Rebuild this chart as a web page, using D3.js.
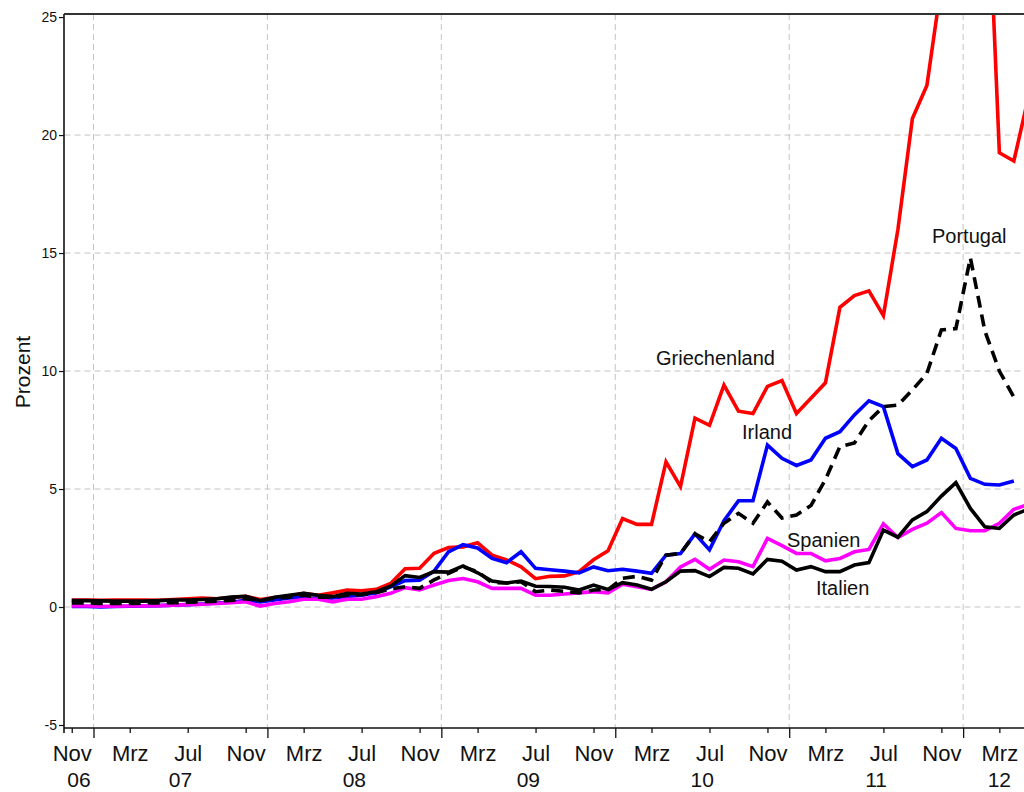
<!DOCTYPE html>
<html>
<head>
<meta charset="utf-8">
<script src="https://cdn.jsdelivr.net/npm/d3@7"></script>
<style>
  html, body { margin: 0; padding: 0; background: #fff; }
  svg { display: block; font-family: "Liberation Sans", Arial, sans-serif; }
  .grid line { stroke: #c4c4c4; stroke-width: 1; stroke-dasharray: 6,4; }
</style>
</head>
<body>
<div id="chart"></div>
<script>
// Monthly spreads, Nov 2006 .. May 2012 (index 0 = Nov 06)
const startYear = 2006, startMonth = 10; // November (0-based)

const greece = [0.30,0.30,0.28,0.30,0.30,0.30,0.28,0.32,0.35,0.38,0.35,0.40,0.45,0.32,0.40,0.46,0.58,0.50,0.60,0.72,
  0.69,0.75,1.00,1.62,1.64,2.28,2.52,2.55,2.72,2.20,2.00,1.70,1.20,1.30,1.32,1.50,2.00,2.38,3.75,3.50,
  3.50,6.15,5.10,8.00,7.70,9.40,8.30,8.20,9.35,9.60,8.20,8.85,9.50,12.7,13.2,13.4,12.35,16.0,20.7,22.1,
  26.4,30.5,32.5,33.9,19.25,18.9,21.6];

const ireland = [0.02,0.02,0.00,0.02,0.03,0.05,0.06,0.08,0.10,0.13,0.17,0.20,0.28,0.22,0.30,0.38,0.40,0.35,0.38,0.45,
  0.50,0.60,0.85,1.12,1.14,1.52,2.34,2.64,2.50,2.06,1.88,2.34,1.64,1.58,1.52,1.45,1.70,1.54,1.60,1.52,
  1.43,2.20,2.27,3.10,2.42,3.66,4.50,4.50,6.86,6.30,6.00,6.23,7.15,7.43,8.14,8.74,8.49,6.50,5.95,6.23,
  7.15,6.72,5.45,5.20,5.17,5.34,null];

const portugal = [0.17,0.17,0.15,0.15,0.15,0.17,0.17,0.18,0.20,0.22,0.25,0.28,0.35,0.28,0.37,0.42,0.50,0.42,0.42,0.50,
  0.52,0.60,0.77,0.86,0.79,1.15,1.43,1.70,1.50,1.03,1.02,1.07,0.65,0.72,0.66,0.60,0.72,0.74,1.22,1.30,
  1.14,2.20,2.27,3.10,2.77,3.55,3.97,3.55,4.45,3.77,3.90,4.30,5.40,6.80,6.95,7.90,8.49,8.56,9.20,9.90,
  11.74,11.8,14.8,11.7,10.0,8.90,null];

const spain = [0.04,0.04,0.03,0.03,0.04,0.05,0.06,0.08,0.10,0.12,0.15,0.18,0.22,0.04,0.15,0.22,0.33,0.33,0.22,0.33,
  0.33,0.44,0.58,0.82,0.72,0.93,1.12,1.21,1.07,0.79,0.79,0.79,0.50,0.50,0.55,0.60,0.65,0.60,0.97,0.86,
  0.75,1.07,1.70,2.02,1.60,1.99,1.92,1.71,2.91,2.60,2.27,2.27,1.96,2.06,2.34,2.44,3.52,2.94,3.29,3.55,
  4.00,3.33,3.23,3.23,3.55,4.14,4.35];

const italy = [0.27,0.27,0.26,0.25,0.25,0.25,0.27,0.30,0.30,0.32,0.35,0.42,0.45,0.27,0.41,0.50,0.58,0.50,0.44,0.58,
  0.55,0.65,0.88,1.33,1.25,1.50,1.48,1.74,1.45,1.10,1.02,1.10,0.88,0.87,0.84,0.72,0.93,0.74,1.03,0.93,
  0.75,1.07,1.52,1.54,1.29,1.68,1.64,1.40,2.02,1.94,1.57,1.71,1.50,1.50,1.78,1.88,3.26,2.96,3.69,4.04,
  4.70,5.27,4.18,3.40,3.33,3.90,4.15];

const monthNames = ["Jan","Feb","Mrz","Apr","Mai","Jun","Jul","Aug","Sep","Okt","Nov","Dez"];
const tickEvery = 4;
const yTicks = [-5, 0, 5, 10, 15, 20, 25];
const yGrid = [0, 5, 10, 15, 20];

const series = [
  {name: "Griechenland", values: greece,   color: "#ff0000", dash: null,   label: [656, 365]},
  {name: "Irland",       values: ireland,  color: "#0000ff", dash: null,   label: [742, 439]},
  {name: "Spanien",      values: spain,    color: "#ff00ff", dash: null,   label: [787, 547]},
  {name: "Portugal",     values: portugal, color: "#000000", dash: "12,7", label: [932, 243]},
  {name: "Italien",      values: italy,    color: "#000000", dash: null,   label: [816, 595]}
];

const width = 1024, height = 792;
const plotLeft = 64.5, plotTop = 14, plotBottom = 728;
const n = greece.length;

// month list derived from start
const months = d3.range(n).map(i => {
  const m = (startMonth + i) % 12;
  const yr = startYear + Math.floor((startMonth + i) / 12);
  return {i: i, m: m, year: yr};
});

const x = d3.scaleLinear().domain([-0.5, 65.7]).range([plotLeft, width]);
const y = d3.scaleLinear().domain([-5.127, 25.13]).range([plotBottom, plotTop]);

const svg = d3.select("#chart").append("svg")
  .attr("width", width)
  .attr("height", height);

svg.append("clipPath").attr("id", "plot-clip")
  .append("rect")
  .attr("x", plotLeft).attr("y", plotTop)
  .attr("width", width - plotLeft).attr("height", plotBottom - plotTop);

// year boundaries (between Dez and Jan)
const yearBreaks = months.filter(d => d.m === 0).map(d => d.i - 0.5);

// grid
svg.append("g").attr("class", "grid")
  .selectAll("line").data(yGrid).enter().append("line")
  .attr("x1", plotLeft).attr("x2", width)
  .attr("y1", d => y(d)).attr("y2", d => y(d));
svg.append("g").attr("class", "grid")
  .selectAll("line").data(yearBreaks).enter().append("line")
  .attr("x1", d => x(d)).attr("x2", d => x(d))
  .attr("y1", plotTop).attr("y2", plotBottom);

// lines
const line = d3.line()
  .defined(d => d != null)
  .x((d, i) => x(i))
  .y(d => y(d));

const lines = svg.append("g").attr("clip-path", "url(#plot-clip)");
series.forEach(s => {
  lines.append("path")
    .datum(s.values)
    .attr("fill", "none")
    .attr("stroke", s.color)
    .attr("stroke-width", 3.6)
    .attr("stroke-linejoin", "miter")
    .attr("stroke-dasharray", s.dash)
    .attr("d", line);
});

// series labels
svg.append("g").selectAll("text").data(series).enter().append("text")
  .attr("x", d => d.label[0])
  .attr("y", d => d.label[1])
  .attr("font-size", 20)
  .attr("fill", "#111")
  .text(d => d.name);

// y axis (plain hyphen for negative numbers, as in the original)
const yAxis = svg.append("g")
  .attr("transform", "translate(64,0)")
  .call(d3.axisLeft(y).tickValues(yTicks).tickSize(5).tickPadding(2).tickFormat(d => String(d)));
yAxis.select(".domain").remove();
yAxis.selectAll("text").attr("font-size", 14).attr("fill", "#111").attr("font-family", "Liberation Sans, Arial");
yAxis.selectAll("line").attr("stroke", "#111").attr("stroke-width", 1.2);
svg.append("line")
  .attr("x1", 64).attr("x2", 64).attr("y1", plotTop).attr("y2", plotBottom + 5)
  .attr("stroke", "#111").attr("stroke-width", 1.6);

// top frame
svg.append("line")
  .attr("x1", 64).attr("x2", width).attr("y1", plotTop).attr("y2", plotTop)
  .attr("stroke", "#333").attr("stroke-width", 2);

// x axis: month ticks
const monthTicks = months.filter(d => d.i % tickEvery === 0);
const xAxis = svg.append("g")
  .attr("transform", `translate(0,${plotBottom})`)
  .call(d3.axisBottom(x)
    .tickValues(monthTicks.map(d => d.i))
    .tickSize(5)
    .tickPadding(12)
    .tickFormat(i => monthNames[months[i].m]));
xAxis.select(".domain").remove();
xAxis.selectAll("text").attr("font-size", 22).attr("fill", "#111").attr("font-family", "Liberation Sans, Arial");
xAxis.selectAll("line").attr("stroke", "#111").attr("stroke-width", 1.3);

// x axis: year break ticks
const xMajor = svg.append("g")
  .attr("transform", `translate(0,${plotBottom})`)
  .call(d3.axisBottom(x).tickValues(yearBreaks).tickSize(10).tickFormat(""));
xMajor.select(".domain").remove();
xMajor.selectAll("line").attr("stroke", "#111").attr("stroke-width", 1.3);

svg.append("line")
  .attr("x1", 64).attr("x2", width).attr("y1", plotBottom).attr("y2", plotBottom)
  .attr("stroke", "#111").attr("stroke-width", 1.6);

// year labels centred on each year's months
const years = d3.groups(months, d => d.year).map(([yr, ms]) => ({
  label: String(yr).slice(2),
  mid: (ms[0].i + ms[ms.length - 1].i) / 2
}));
svg.append("g").selectAll("text").data(years).enter().append("text")
  .attr("x", d => x(d.mid))
  .attr("y", 787)
  .attr("text-anchor", "middle")
  .attr("font-size", 21)
  .attr("fill", "#111")
  .text(d => d.label);

// y title
svg.append("text")
  .attr("transform", "translate(30,372) rotate(-90)")
  .attr("text-anchor", "middle")
  .attr("font-size", 21)
  .attr("fill", "#111")
  .text("Prozent");
</script>
</body>
</html>
